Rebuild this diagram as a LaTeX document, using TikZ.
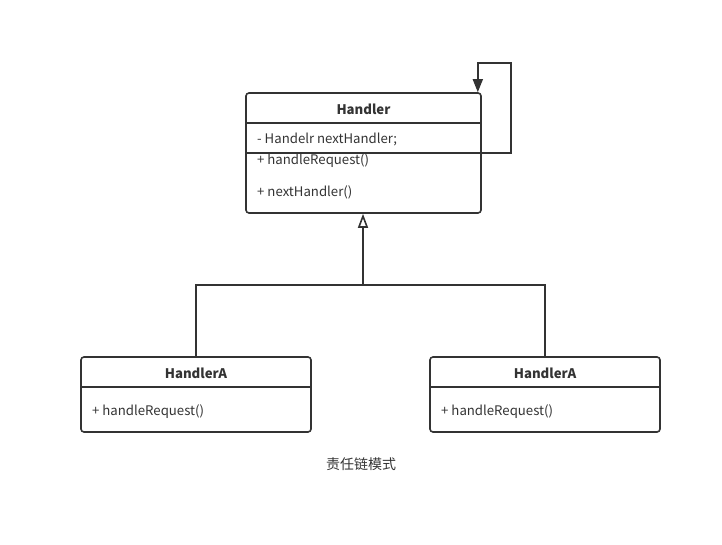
\documentclass[tikz,border=0pt]{standalone}
\usepackage{fontspec}
\setmainfont{Noto Sans CJK SC}
\usetikzlibrary{arrows.meta}
\usetikzlibrary{positioning}

\definecolor{umlgray}{HTML}{333333}

\tikzset{
  umlclass/.style={draw=umlgray, line width=1.6pt, rounded corners=3pt, inner sep=0pt},
  umlline/.style={draw=umlgray, line width=1.6pt},
  umltext/.style={text=umlgray, font=\fontsize{13.2}{15}\selectfont, inner sep=0pt},
  umltitle/.style={umltext, font=\fontsize{13.2}{15}\selectfont\bfseries},
}

\begin{document}
\begin{tikzpicture}[x=1pt, y=-1pt]
    \useasboundingbox (0,0) rectangle (722,545);

    % base class
    \node[umlclass, minimum width=235pt, minimum height=120pt] (handler) at (363.5,153) {};
    \draw[umlline] (246,123) -- (481,123);
    \draw[umlline] (246,153) -- (481,153);
    \node[umltitle] (handlername) at (363.5,109) {Handler};
    \node[umltext, anchor=west] (field) at (257,140) {- Handelr nextHandler;};
    \node[umltext, anchor=west] (method1) at (257,161) {+ handleRequest()};
    \node[umltext, anchor=west] (method2) at (257,192) {+ nextHandler()};

    % self reference
    \coordinate (looptop) at (511,63);
    \coordinate (loopend) at ([xshift=-4pt]handler.north east);
    \draw[umlline, -{Triangle[length=13pt, width=10pt]}] (handler.east) -| (looptop) -| (loopend);

    % sub classes
    \node[umlclass, minimum width=230pt, minimum height=75pt] (subA) at (196,394.5) {};
    \draw[umlline] (81,387) -- (311,387);
    \node[umltitle] (subAname) at (196,373) {HandlerA};
    \node[umltext, anchor=west] (subAmethod) at (92,412) {+ handleRequest()};

    \node[umlclass, minimum width=230pt, minimum height=75pt] (subB) at (545,394.5) {};
    \draw[umlline] (430,387) -- (660,387);
    \node[umltitle] (subBname) at (545,373) {HandlerA};
    \node[umltext, anchor=west] (subBmethod) at (441,412) {+ handleRequest()};

    % inheritance
    \coordinate (fork) at (363,285);
    \draw[umlline, -{Triangle[open, length=14pt, width=10pt]}] (fork) -- (fork |- handler.south);
    \draw[umlline] (subA.north) |- (fork) -| (subB.north);

    \node[umltext, font=\fontsize{14}{16}\selectfont] (caption) at (361,464) {责任链模式};
\end{tikzpicture}
\end{document}
